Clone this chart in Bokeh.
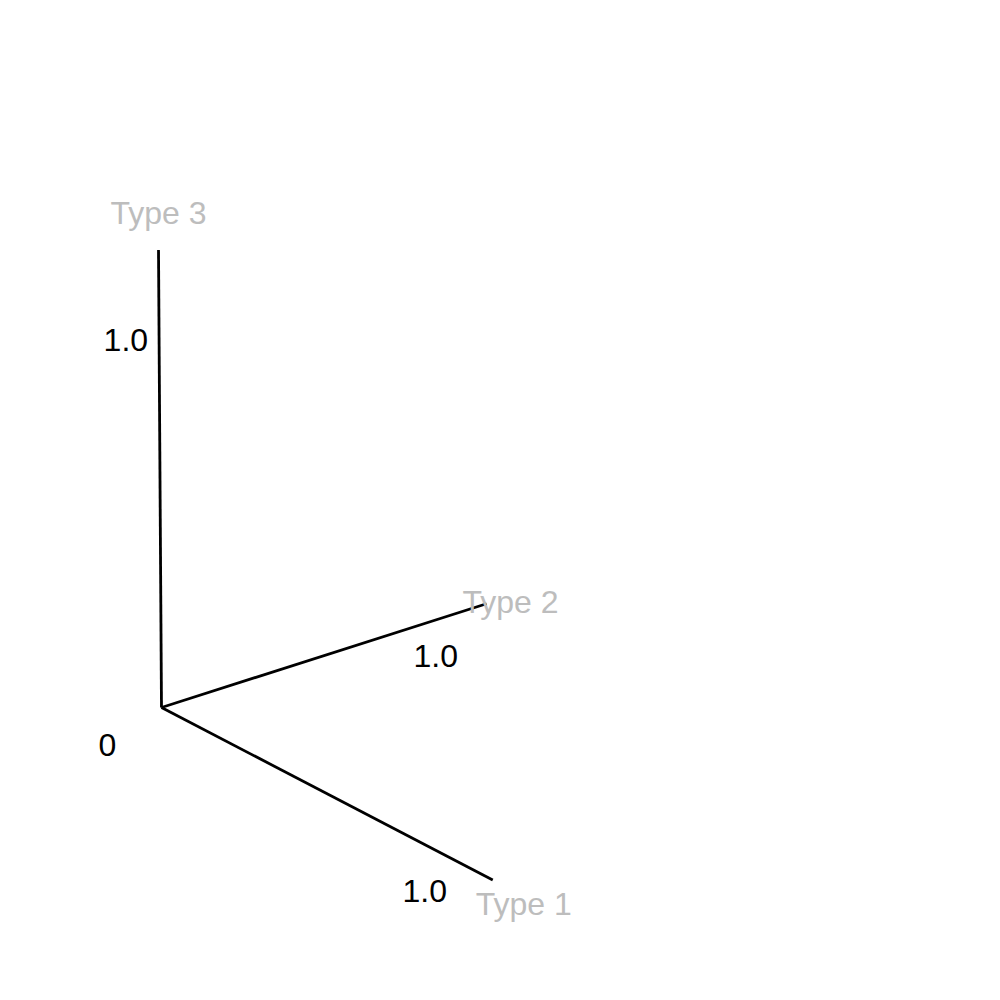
from bokeh.plotting import figure
from bokeh.models import Range1d
from bokeh.core.properties import value
from bokeh.embed import file_html
from bokeh.resources import INLINE

# ---- data ----
axis_names = ["Type 1", "Type 2", "Type 3"]
axis_extent = [1.25, 1.25, 1.25]
tick_values = [1.0, 1.0, 1.0]
tick_labels = ["1.0", "1.0", "1.0"]
origin_label = "0"

# ---- layout / projection (screen pixels per data unit) ----
W = H = 984
origin = (161.0, 707.0)
proj = [(265.0, 138.0), (260.0, -83.0), (-2.4, -366.0)]

def project(i, v):
    return origin[0] + proj[i][0] * v, origin[1] + proj[i][1] * v

FONT = value("Liberation Sans")
FS = "32px"

p = figure(width=W, height=H, output_backend="svg", toolbar_location=None,
           x_range=Range1d(0, W), y_range=Range1d(H, 0), min_border=0)
p.axis.visible = False
p.grid.visible = False
p.outline_line_color = None
p.background_fill_color = "white"
p.border_fill_color = "white"

# axis lines
xs, ys = [], []
for i in range(3):
    ex, ey = project(i, axis_extent[i])
    xs.append([origin[0], ex])
    ys.append([origin[1], ey])
p.multi_line(xs, ys, line_color="black", line_width=2.8)

# tick labels
tick_align = ["left", "left", "right"]
tick_off = [(-24, 45), (-8, 31), (-11, -2)]
for i in range(3):
    tx, ty = project(i, tick_values[i])
    p.text([tx], [ty], text=[tick_labels[i]], text_font=FONT, text_font_size=FS,
           text_color="black", text_align=tick_align[i], text_baseline="middle",
           x_offset=tick_off[i][0], y_offset=tick_off[i][1])

# origin label
p.text([origin[0]], [origin[1]], text=[origin_label], text_font=FONT, text_font_size=FS,
       text_color="black", text_align="left", text_baseline="middle",
       x_offset=-63, y_offset=37)

# axis names
name_off = [(31, 24), (24, -2), (0, -37)]
for i in range(3):
    ex, ey = project(i, axis_extent[i])
    p.text([ex], [ey], text=[axis_names[i]], text_font=FONT, text_font_size=FS,
           text_color="#bdbdbd", text_align="center", text_baseline="middle",
           x_offset=name_off[i][0], y_offset=name_off[i][1])

open("out.html", "w").write(file_html(p, INLINE))
